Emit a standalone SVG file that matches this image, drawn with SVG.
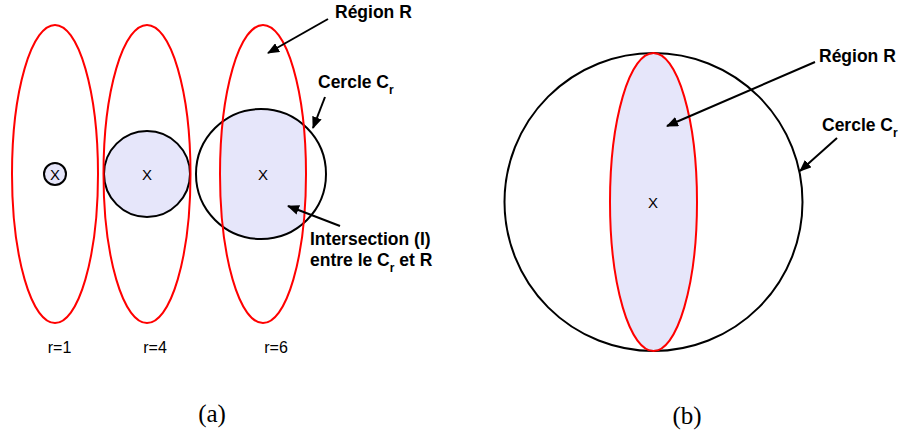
<svg xmlns="http://www.w3.org/2000/svg" width="900" height="436" viewBox="0 0 900 436">
<style>
.red{fill:none;stroke:#ff0000;stroke-width:2}
.blk{fill:none;stroke:#000;stroke-width:2}
.fill{fill:#e6e6fa;stroke:none}
.lbl{font-family:"Liberation Sans",Arial,sans-serif;font-size:17.5px;font-weight:bold;fill:#000}
.sub{font-size:12px}
.x{font-family:"Liberation Sans",Arial,sans-serif;font-size:15px;fill:#000;text-anchor:middle}
.rl{font-family:"Liberation Sans",Arial,sans-serif;font-size:16px;fill:#000;text-anchor:middle}
.cap{font-family:"Liberation Serif","Times New Roman",serif;font-size:25px;fill:#000;text-anchor:middle}
.arr{stroke:#000;stroke-width:2;fill:none;marker-end:url(#ah)}
</style>
<defs>
<marker id="ah" viewBox="0 0 12 10" refX="11" refY="5" markerWidth="12" markerHeight="10" markerUnits="userSpaceOnUse" orient="auto">
<path d="M0,0 L12,5 L0,10 Z" fill="#000"/>
</marker>
<clipPath id="clipE3"><ellipse cx="263" cy="174" rx="43" ry="149"/></clipPath>
</defs>
<rect width="900" height="436" fill="#fff"/>
<g id="r1">
<circle class="fill" cx="55" cy="174" r="11"/>
<circle class="blk" cx="55" cy="174" r="11"/>
<ellipse class="red" cx="55" cy="174" rx="43" ry="149"/>
<text class="x" x="55" y="179.5">X</text>
<text class="rl" x="59.5" y="353">r=1</text>
</g>
<g id="r4">
<circle class="fill" cx="147" cy="174" r="43"/>
<circle class="blk" cx="147" cy="174" r="43"/>
<ellipse class="red" cx="147" cy="174" rx="43.5" ry="149"/>
<text class="x" x="147" y="179.5">X</text>
<text class="rl" x="155" y="353">r=4</text>
</g>
<g id="r6">
<circle class="fill" cx="261" cy="174" r="65" clip-path="url(#clipE3)"/>
<circle class="blk" cx="261" cy="174" r="65"/>
<ellipse class="red" cx="263" cy="174" rx="43" ry="149"/>
<text class="x" x="263" y="179.5">X</text>
<text class="rl" x="276" y="353">r=6</text>
</g>
<g id="labelsA">
<text class="lbl" x="335" y="18">Région R</text>
<text class="lbl" x="318" y="88">Cercle C<tspan class="sub" dy="6">r</tspan></text>
<text class="lbl" x="310" y="245">Intersection (I)</text>
<text class="lbl" x="310" y="266">entre le C<tspan class="sub" dy="6">r</tspan><tspan dy="-6"> et R</tspan></text>
<text class="cap" x="212" y="422">(a)</text>
</g>
<g id="figB">
<ellipse class="fill" cx="653.5" cy="202" rx="43.5" ry="149"/>
<circle class="blk" cx="653.5" cy="202" r="149"/>
<ellipse class="red" cx="653.5" cy="202" rx="43.5" ry="149"/>
<text class="x" x="653" y="207.5">X</text>
<text class="lbl" x="819" y="62">Région R</text>
<text class="lbl" x="822" y="131">Cercle C<tspan class="sub" dy="6">r</tspan></text>
<text class="cap" x="687" y="424">(b)</text>
</g>
<g id="connectors">
<line class="arr" x1="328" y1="19" x2="268" y2="53"/>
<line class="arr" x1="325" y1="97" x2="313" y2="128"/>
<line class="arr" x1="340" y1="226" x2="288" y2="206"/>
<line class="arr" x1="815" y1="62" x2="667" y2="126"/>
<line class="arr" x1="837" y1="138" x2="800" y2="171"/>
</g>
</svg>
